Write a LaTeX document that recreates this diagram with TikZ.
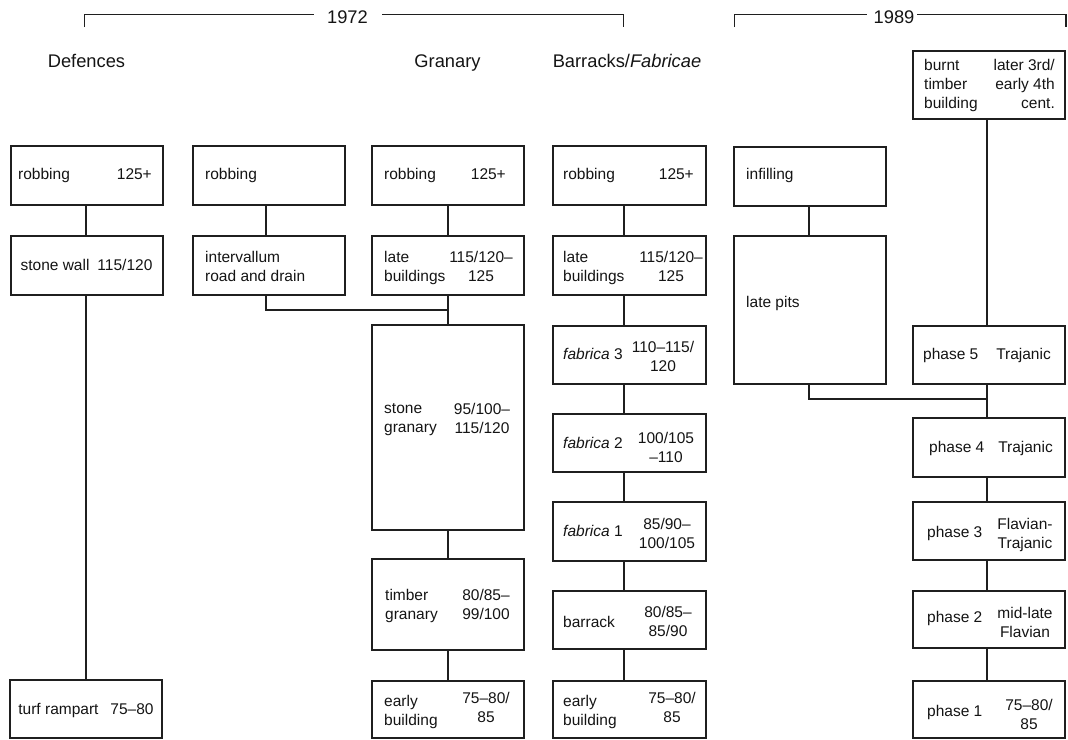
\documentclass[tikz,border=0pt]{standalone}
\usepackage{fontspec}
\setmainfont{Liberation Sans}
\tikzset{
  bx/.style={draw=black!88, line width=1.2pt, inner sep=0pt, rectangle},
  tx/.style={inner sep=0pt, font=\fontsize{15.5}{19}\selectfont, align=left, text=black!92,
    execute at begin node=\strut, execute at end node=\strut},
  hd/.style={inner sep=0pt, font=\fontsize{18.3}{22}\selectfont, text=black!92},
  ln/.style={draw=black!88, line width=1.2pt},
}
\newcommand\phbox[5]{\node[bx, minimum width={(#4-#2)*1pt}, minimum height={(#5-#3)*1pt}] (#1) at ({(#2+#4)/2},{(#3+#5)/2}) {};}
\newcommand\tleft[4]{\node[tx, anchor=west] (#1) at (#2,#3+1) {#4};}
\newcommand\tright[4]{\node[tx, anchor=east, align=right] (#1) at (#2,#3+1) {#4};}
\newcommand\tcent[4]{\node[tx, align=center] (#1) at (#2,#3+1) {#4};}
\begin{document}
\begin{tikzpicture}[x=1pt,y=-1pt]
\useasboundingbox (0,0) rectangle (1068,739);

% ---- year brackets
\coordinate (b1l) at (84.5,27);
\coordinate (b1r) at (623.5,27);
\coordinate (g1a) at (314,14.5);
\coordinate (g1b) at (382,14.5);
\node[hd, anchor=base] (y1972) at (347.5,23) {1972};
\draw[ln] (b1l) |- (g1a);
\draw[ln] (g1b) -| (b1r);

\coordinate (b2l) at (734.5,27);
\coordinate (b2r) at (1066,27);
\coordinate (g2a) at (866.5,14.5);
\coordinate (g2b) at (917,14.5);
\node[hd, anchor=base] (y1989) at (894,23) {1989};
\draw[ln] (b2l) |- (g2a);
\draw[ln] (g2b) -| (b2r);

% ---- headers
\node[hd, anchor=base] (hdef) at (86.5,67.5) {Defences};
\node[hd, anchor=base] (hgra) at (447.5,67.5) {Granary};
\node[hd, anchor=base] (hbar) at (627,67.5) {Barracks/\textit{Fabricae}};

% ---- column x positions for connectors
\coordinate (xA) at (86,0);
\coordinate (xB) at (266,0);
\coordinate (xC) at (448,0);
\coordinate (xD) at (624,0);
\coordinate (xE) at (809,0);
\coordinate (xF) at (987,0);

% ---- Defences
\phbox{a1}{11}{146}{163}{205}
\tleft{a1l}{18}{175}{robbing}
\tright{a1r}{152}{175}{125+}
\phbox{a2}{11}{236}{163}{295}
\tcent{a2t}{86.5}{265.5}{stone wall\hspace{8pt}115/120}
\phbox{a3}{10}{680}{162}{738}
\tcent{a3t}{86}{710}{turf rampart\hspace{12pt}75--80}

% ---- intervallum
\phbox{b1}{193}{146}{345}{205}
\tleft{b1l}{205}{175}{robbing}
\phbox{b2}{193}{236}{345}{295}
\tleft{b2l}{205}{268.5}{intervallum\\road and drain}

% ---- Granary
\phbox{c1}{372}{146}{524}{205}
\tleft{c1l}{384}{175}{robbing}
\tright{c1r}{506}{175}{125+}
\phbox{c2}{372}{236}{524}{295}
\tleft{c2l}{384}{268}{late\\buildings}
\tcent{c2r}{481}{268}{115/120--\\125}
\phbox{c3}{372}{325}{524}{530}
\tleft{c3l}{384}{420}{stone\\granary}
\tcent{c3r}{482}{420}{95/100--\\115/120}
\phbox{c4}{372}{559}{524}{650}
\tleft{c4l}{385}{606.5}{timber\\granary}
\tcent{c4r}{486}{606.5}{80/85--\\99/100}
\phbox{c5}{372}{681}{524}{738}
\tleft{c5l}{384}{712}{early\\building}
\tcent{c5r}{486}{709}{75--80/\\85}

% ---- Barracks / Fabricae
\phbox{d1}{553}{146}{706}{205}
\tleft{d1l}{563}{175}{robbing}
\tright{d1r}{694}{175}{125+}
\phbox{d2}{553}{236}{706}{295}
\tleft{d2l}{563}{268}{late\\buildings}
\tcent{d2r}{671}{268}{115/120--\\125}
\phbox{d3}{553}{326}{706}{384}
\tleft{d3l}{563}{355}{\textit{fabrica} 3}
\tcent{d3r}{663}{358.5}{110--115/\\120}
\phbox{d4}{553}{414}{706}{472}
\tleft{d4l}{563}{444}{\textit{fabrica} 2}
\tcent{d4r}{666}{449.5}{100/105\\--110}
\phbox{d5}{553}{502}{706}{561}
\tleft{d5l}{563}{532}{\textit{fabrica} 1}
\tcent{d5r}{667}{535}{85/90--\\100/105}
\phbox{d6}{553}{591}{706}{649}
\tleft{d6l}{563}{623}{barrack}
\tcent{d6r}{668}{623.5}{80/85--\\85/90}
\phbox{d7}{553}{681}{706}{738}
\tleft{d7l}{563}{712}{early\\building}
\tcent{d7r}{672}{709}{75--80/\\85}

% ---- 1989 left
\phbox{e1}{734}{147}{886}{206}
\tleft{e1l}{746}{175}{infilling}
\phbox{e2}{734}{236}{886}{384}
\tleft{e2l}{746}{303}{late pits}

% ---- 1989 right
\phbox{f1}{913}{51}{1065}{119}
\tleft{f1l}{924}{86}{burnt\\timber\\building}
\tright{f1r}{1055}{86}{later 3rd/\\early 4th\\cent.}
\phbox{f2}{913}{326}{1065}{384}
\tleft{f2l}{923}{355}{phase 5}
\tright{f2r}{1051}{355}{Trajanic}
\phbox{f3}{913}{418}{1065}{477}
\tleft{f3l}{929}{448}{phase 4}
\tright{f3r}{1053}{448}{Trajanic}
\phbox{f4}{913}{502}{1065}{560}
\tleft{f4l}{927}{533}{phase 3}
\tcent{f4r}{1025}{535}{Flavian-\\Trajanic}
\phbox{f5}{913}{591}{1065}{648}
\tleft{f5l}{927}{618}{phase 2}
\tcent{f5r}{1025}{624.5}{mid-late\\Flavian}
\phbox{f6}{913}{681}{1065}{738}
\tleft{f6l}{927}{712}{phase 1}
\tcent{f6r}{1029}{716.5}{75--80/\\85}

% ---- connectors
\draw[ln] (a1.south -| xA) -- (a2.north -| xA);
\draw[ln] (a2.south -| xA) -- (a3.north -| xA);

\draw[ln] (b1.south -| xB) -- (b2.north -| xB);
\coordinate (jB) at (266,310);
\draw[ln] (b2.south -| xB) -- (jB) -- (jB -| xC);

\draw[ln] (c1.south -| xC) -- (c2.north -| xC);
\draw[ln] (c2.south -| xC) -- (c3.north -| xC);
\draw[ln] (c3.south -| xC) -- (c4.north -| xC);
\draw[ln] (c4.south -| xC) -- (c5.north -| xC);

\draw[ln] (d1.south -| xD) -- (d2.north -| xD);
\draw[ln] (d2.south -| xD) -- (d3.north -| xD);
\draw[ln] (d3.south -| xD) -- (d4.north -| xD);
\draw[ln] (d4.south -| xD) -- (d5.north -| xD);
\draw[ln] (d5.south -| xD) -- (d6.north -| xD);
\draw[ln] (d6.south -| xD) -- (d7.north -| xD);

\draw[ln] (e1.south -| xE) -- (e2.north -| xE);
\coordinate (jE) at (809,399);
\draw[ln] (e2.south -| xE) -- (jE) -- (jE -| xF);

\draw[ln] (f1.south -| xF) -- (f2.north -| xF);
\draw[ln] (f2.south -| xF) -- (f3.north -| xF);
\draw[ln] (f3.south -| xF) -- (f4.north -| xF);
\draw[ln] (f4.south -| xF) -- (f5.north -| xF);
\draw[ln] (f5.south -| xF) -- (f6.north -| xF);
\end{tikzpicture}
\end{document}
